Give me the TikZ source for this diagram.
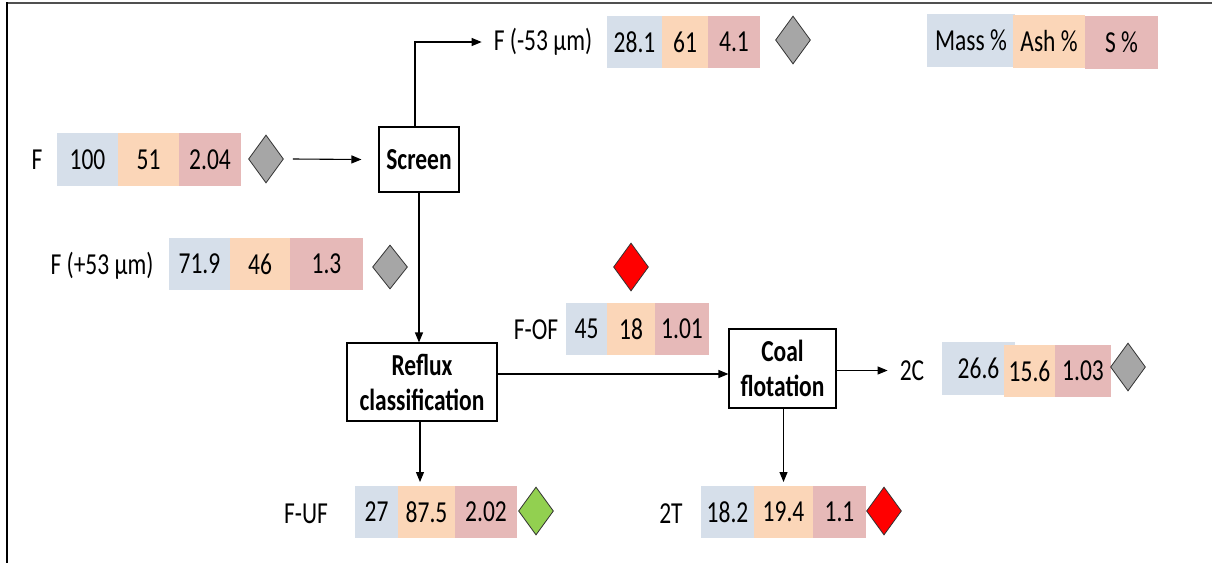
\documentclass[tikz,border=0pt]{standalone}
\usepackage{fontspec}
\setmainfont{Carlito}[FakeStretch=0.77]
\usetikzlibrary{shapes.geometric,arrows.meta}

\definecolor{massblue}{HTML}{D6DFEA}
\definecolor{ashorange}{HTML}{FBD6B8}
\definecolor{sulred}{HTML}{E6B9B8}
\definecolor{flaggray}{HTML}{A6A6A6}
\definecolor{flaggreen}{HTML}{92D050}
\definecolor{flagred}{HTML}{FF0000}
\definecolor{framegray}{HTML}{505050}

\tikzset{
  txt/.style={font=\fontsize{30.5}{35}\selectfont, inner sep=0pt, text=black},
  cell/.style={txt, fill=#1, minimum height=52pt, outer sep=0pt},
  proc/.style={draw=black, line width=1.1pt, fill=white, align=center, inner sep=0pt,
    font=\fontsize{30.5}{35}\selectfont\bfseries},
  flag/.style={diamond, draw=black!80, line width=0.8pt, fill=#1, inner sep=0pt,
    minimum width=35pt, minimum height=48pt},
  arr/.style={line width=1.1pt, -{Triangle[length=10pt,width=8pt]}},
  link/.style={line width=1.1pt}
}

\begin{document}
\begin{tikzpicture}[x=1pt, y=-1pt]
\useasboundingbox (0,0) rectangle (1212,563);

% outer frame
\draw[framegray, line width=2pt] (7,3) -- (1212,3);
\draw[black, line width=2pt] (7,2) -- (7,563);

% legend
\node[cell=massblue,   minimum width=88pt, minimum height=53pt] (lgm) at (971,40.5)   {Mass \%};
\node[cell=ashorange,  minimum width=72pt, minimum height=53pt] (lga) at (1049,41.5)  {Ash \%};
\node[cell=sulred,     minimum width=73pt, minimum height=53pt] (lgs) at (1121.5,42.5) {S \%};

% process units
\node[proc, minimum width=80pt,  minimum height=65pt] (screen) at (419,159.5) {Screen};
\node[proc, minimum width=150pt, minimum height=78pt] (reflux) at (422,382) {Reflux\\classification};
\node[proc, minimum width=107pt, minimum height=79pt] (coal)   at (782.5,368.5) {Coal\\flotation};

% feed F
\node[txt] (labF) at (37,160) {F};
\node[cell=massblue,  minimum width=61pt, minimum height=53pt] (fm) at (87.5,159.5)  {100};
\node[cell=ashorange, minimum width=61pt, minimum height=53pt] (fa) at (148.5,159.5) {51};
\node[cell=sulred,    minimum width=62pt, minimum height=53pt] (fs) at (210,159.5)   {2.04};
\node[flag=flaggray] (dF) at (266,159) {};

% F (-53 um)
\node[txt] (labfine) at (543,42) {F (-53 µm)};
\node[cell=massblue,  minimum width=55pt] (nm) at (634.5,42) {28.1};
\node[cell=ashorange, minimum width=46pt] (na) at (685,42)   {61};
\node[cell=sulred,    minimum width=52pt] (ns) at (734,42)   {4.1};
\node[flag=flaggray] (dfine) at (793,40) {};

% F (+53 um)
\node[txt] (labcoarse) at (102,266) {F (+53 µm)};
\node[cell=massblue,  minimum width=61pt] (cm) at (199.5,264) {71.9};
\node[cell=ashorange, minimum width=60pt] (ca) at (260,264)   {46};
\node[cell=sulred,    minimum width=73pt] (cs) at (326.5,264) {1.3};
\node[flag=flaggray, minimum height=44pt] (dcoarse) at (390,267) {};

% F-OF
\node[flag=flagred] (dof) at (631,267) {};
\node[txt] (labof) at (536,330) {F-OF};
\node[cell=massblue,  minimum width=41pt] (om) at (586.5,329) {45};
\node[cell=ashorange, minimum width=48pt] (oa) at (631,329)   {18};
\node[cell=sulred,    minimum width=54pt] (os) at (682,329)   {1.01};

% 2C
\node[txt] (lab2c) at (912,371) {2C};
\node[cell=massblue,  minimum width=73pt, minimum height=53pt] (km) at (978.5,368.5) {26.6};
\node[cell=ashorange, minimum width=51pt] (ka) at (1029.5,371) {15.6};
\node[cell=sulred,    minimum width=56pt] (ks) at (1083,371)   {1.03};
\node[flag=flaggray] (d2c) at (1128,367) {};

% F-UF
\node[txt] (labuf) at (306,514) {F-UF};
\node[cell=massblue,  minimum width=43pt] (um) at (376.5,512) {27};
\node[cell=ashorange, minimum width=57pt] (ua) at (426.5,512) {87.5};
\node[cell=sulred,    minimum width=62pt] (us) at (486,512)   {2.02};
\node[flag=flaggreen] (duf) at (536,511) {};

% 2T
\node[txt] (lab2t) at (671,514) {2T};
\node[cell=massblue,  minimum width=53pt] (tm) at (727.5,512) {18.2};
\node[cell=ashorange, minimum width=59pt] (ta) at (783.5,512) {19.4};
\node[cell=sulred,    minimum width=53pt] (ts) at (839.5,512) {1.1};
\node[flag=flagred] (d2t) at (884,511) {};

% connectors
\draw[arr] ([xshift=9pt]dF.east) -- ([xshift=-17pt]screen.west);
\coordinate (sTop) at ([xshift=-4pt]screen.north);
\coordinate (fineIn) at ([xshift=-12pt]labfine.west);
\draw[arr] (sTop) |- (fineIn);
\draw[arr] (screen.south) -- (screen.south |- reflux.north);
\coordinate (rOut) at ([yshift=8pt]reflux.east);
\draw[arr] (rOut) -- (rOut -| coal.west);
\coordinate (cOut) at ([yshift=-2pt]coal.east);
\coordinate (cEnd) at ([xshift=-12pt]lab2c.west |- cOut);
\draw[arr] (cOut) -- (cEnd);
\draw[arr, shorten >=4pt] ([xshift=-2pt]reflux.south) -- ([xshift=-2pt]reflux.south |- ua.north);
\draw[arr, shorten >=4pt] ([xshift=1pt]coal.south) -- ([xshift=1pt]coal.south |- ta.north);
\end{tikzpicture}
\end{document}
